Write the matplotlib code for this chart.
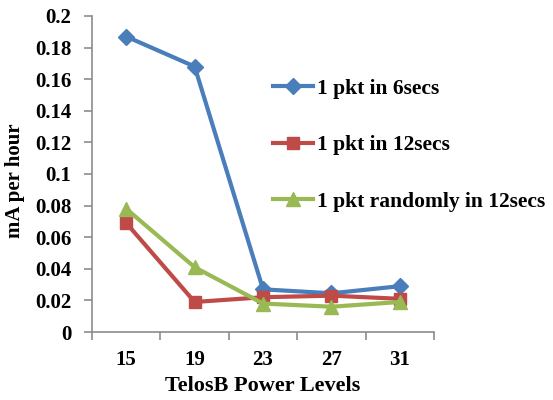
import matplotlib
matplotlib.use("Agg")
import matplotlib.pyplot as plt
import numpy as np

power_levels = ["15", "19", "23", "27", "31"]
pkt_6s = [0.187, 0.168, 0.027, 0.0245, 0.029]
pkt_12s = [0.069, 0.019, 0.022, 0.023, 0.021]
pkt_rand_12s = [0.078, 0.041, 0.018, 0.016, 0.019]
y_ticks = [0, 0.02, 0.04, 0.06, 0.08, 0.1, 0.12, 0.14, 0.16, 0.18, 0.2]
y_tick_labels = ["0", "0.02", "0.04", "0.06", "0.08", "0.1", "0.12", "0.14", "0.16", "0.18", "0.2"]

plt.rcParams["font.family"] = ["Liberation Serif", "DejaVu Serif"]
plt.rcParams["font.weight"] = "bold"

fig = plt.figure(figsize=(5.53, 4.0), dpi=100)
ax = fig.add_axes([0.1664, 0.17, 0.6186, 0.79])

x = np.arange(len(power_levels))
ax.plot(x, pkt_6s, color="#4a7ebb", lw=3, marker="D", ms=8, label="1 pkt in 6secs")
ax.plot(x, pkt_12s, color="#be4b48", lw=3, marker="s", ms=9, label="1 pkt in 12secs")
ax.plot(x, pkt_rand_12s, color="#98b954", lw=3, marker="^", ms=10, label="1 pkt randomly in 12secs")

ax.set_xlim(-0.5, len(power_levels) - 0.5)
ax.set_ylim(0, 0.2)
ax.set_yticks(y_ticks)
ax.set_yticklabels(y_tick_labels)
ax.set_xticks(x)
ax.set_xticklabels(power_levels)
ax.set_xticks(np.arange(-0.5, len(power_levels)), minor=True)

for side in ("top", "right"):
    ax.spines[side].set_visible(False)
for side in ("left", "bottom"):
    ax.spines[side].set_color("#8c8c8c")
    ax.spines[side].set_linewidth(1.2)

ax.tick_params(axis="y", direction="out", length=6, width=1.2, color="#8c8c8c",
               labelsize=15, pad=9)
ax.tick_params(axis="x", which="major", length=0, labelsize=15, pad=13)
ax.tick_params(axis="x", which="minor", direction="out", length=6, width=1.2, color="#8c8c8c")
for lbl in ax.get_xticklabels() + ax.get_yticklabels():
    lbl.set_fontweight("bold")

ax.set_ylabel("mA per hour", fontsize=15, fontweight="bold")
ax.yaxis.set_label_coords(-0.196, 0.48)
ax.set_xlabel("TelosB Power Levels", fontsize=16, fontweight="bold", labelpad=4)

leg = fig.legend(loc="upper left", bbox_to_anchor=(0.478, 0.825), frameon=False,
                 prop={"size": 15.5, "weight": "bold"}, handlelength=1.85,
                 handletextpad=0.2, labelspacing=1.7, borderaxespad=0)

fig.savefig("out.png", dpi=100)
